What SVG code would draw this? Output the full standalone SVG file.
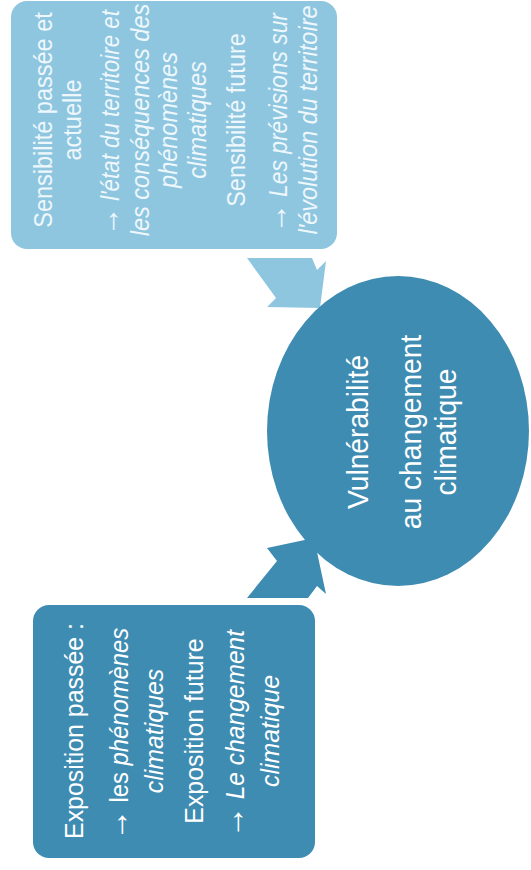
<svg xmlns="http://www.w3.org/2000/svg" width="531" height="870" viewBox="0 0 531 870">
<style>
  text { font-family: "Liberation Sans", Arial, sans-serif; text-anchor: middle; }
  .lt { font-size: 25px; fill: #eef7fb; }
  .dt { font-size: 26.5px; fill: #ffffff; }
  .et { font-size: 30px; fill: #ffffff; }
  .it { font-style: italic; }
  .ar { font-style: normal; font-size: 1.3em; }
  .light { fill: #8ec6e0; }
  .dark { fill: #3f8cb2; }
</style>
<rect width="531" height="870" fill="#ffffff"/>
<g id="connectors">
  <polygon class="light" points="247,258 312,258 317,270 326,261 320,308 267,307 276,298"/>
  <polygon class="dark" points="247,598 277,561 267,548 314,538 326,594 317,586 308,598"/>
</g>
<g id="sensibilite">
  <rect class="light" x="11" y="1" width="326" height="248" rx="16"/>
  <text class="lt" transform="translate(52,120) rotate(-90) scale(0.94,1)">Sensibilité passée et</text>
  <text class="lt" transform="translate(81,120) rotate(-90) scale(0.94,1)">actuelle</text>
  <text class="lt" transform="translate(119,123) rotate(-90) scale(0.894,1)"><tspan class="ar">→</tspan> <tspan class="it">l'état du territoire et</tspan></text>
  <text class="lt it" transform="translate(149,120) rotate(-90) scale(0.94,1)">les conséquences des</text>
  <text class="lt it" transform="translate(177,120) rotate(-90) scale(0.94,1)">phénomènes</text>
  <text class="lt it" transform="translate(206,120) rotate(-90) scale(0.94,1)">climatiques</text>
  <text class="lt" transform="translate(245,120) rotate(-90) scale(0.94,1)">Sensibilité future</text>
  <text class="lt" transform="translate(287,123) rotate(-90) scale(0.913,1)"><tspan class="ar">→</tspan> <tspan class="it">Les prévisions sur</tspan></text>
  <text class="lt it" transform="translate(317,120) rotate(-90) scale(0.94,1)">l'évolution du territoire</text>
</g>
<g id="exposition">
  <rect class="dark" x="33" y="605" width="282" height="253" rx="16"/>
  <text class="dt" transform="translate(83,731) rotate(-90) scale(0.94,1)">Exposition passée :</text>
  <text class="dt" transform="translate(128,734) rotate(-90) scale(0.9,1)"><tspan class="ar">→</tspan> les <tspan class="it">phénomènes</tspan></text>
  <text class="dt it" transform="translate(163,731) rotate(-90) scale(0.94,1)">climatiques</text>
  <text class="dt" transform="translate(203,731) rotate(-90) scale(0.94,1)">Exposition future</text>
  <text class="dt" transform="translate(244,734) rotate(-90) scale(0.927,1)"><tspan class="ar">→</tspan> <tspan class="it">Le changement</tspan></text>
  <text class="dt it" transform="translate(279,731) rotate(-90) scale(0.94,1)">climatique</text>
</g>
<g id="vulnerabilite">
  <ellipse class="dark" cx="398" cy="431" rx="131" ry="155"/>
  <text class="et" transform="translate(368,432) rotate(-90) scale(0.94,1)">Vulnérabilité</text>
  <text class="et" transform="translate(421,432) rotate(-90) scale(0.94,1)">au changement</text>
  <text class="et" transform="translate(456,432) rotate(-90) scale(0.94,1)">climatique</text>
</g>
</svg>
